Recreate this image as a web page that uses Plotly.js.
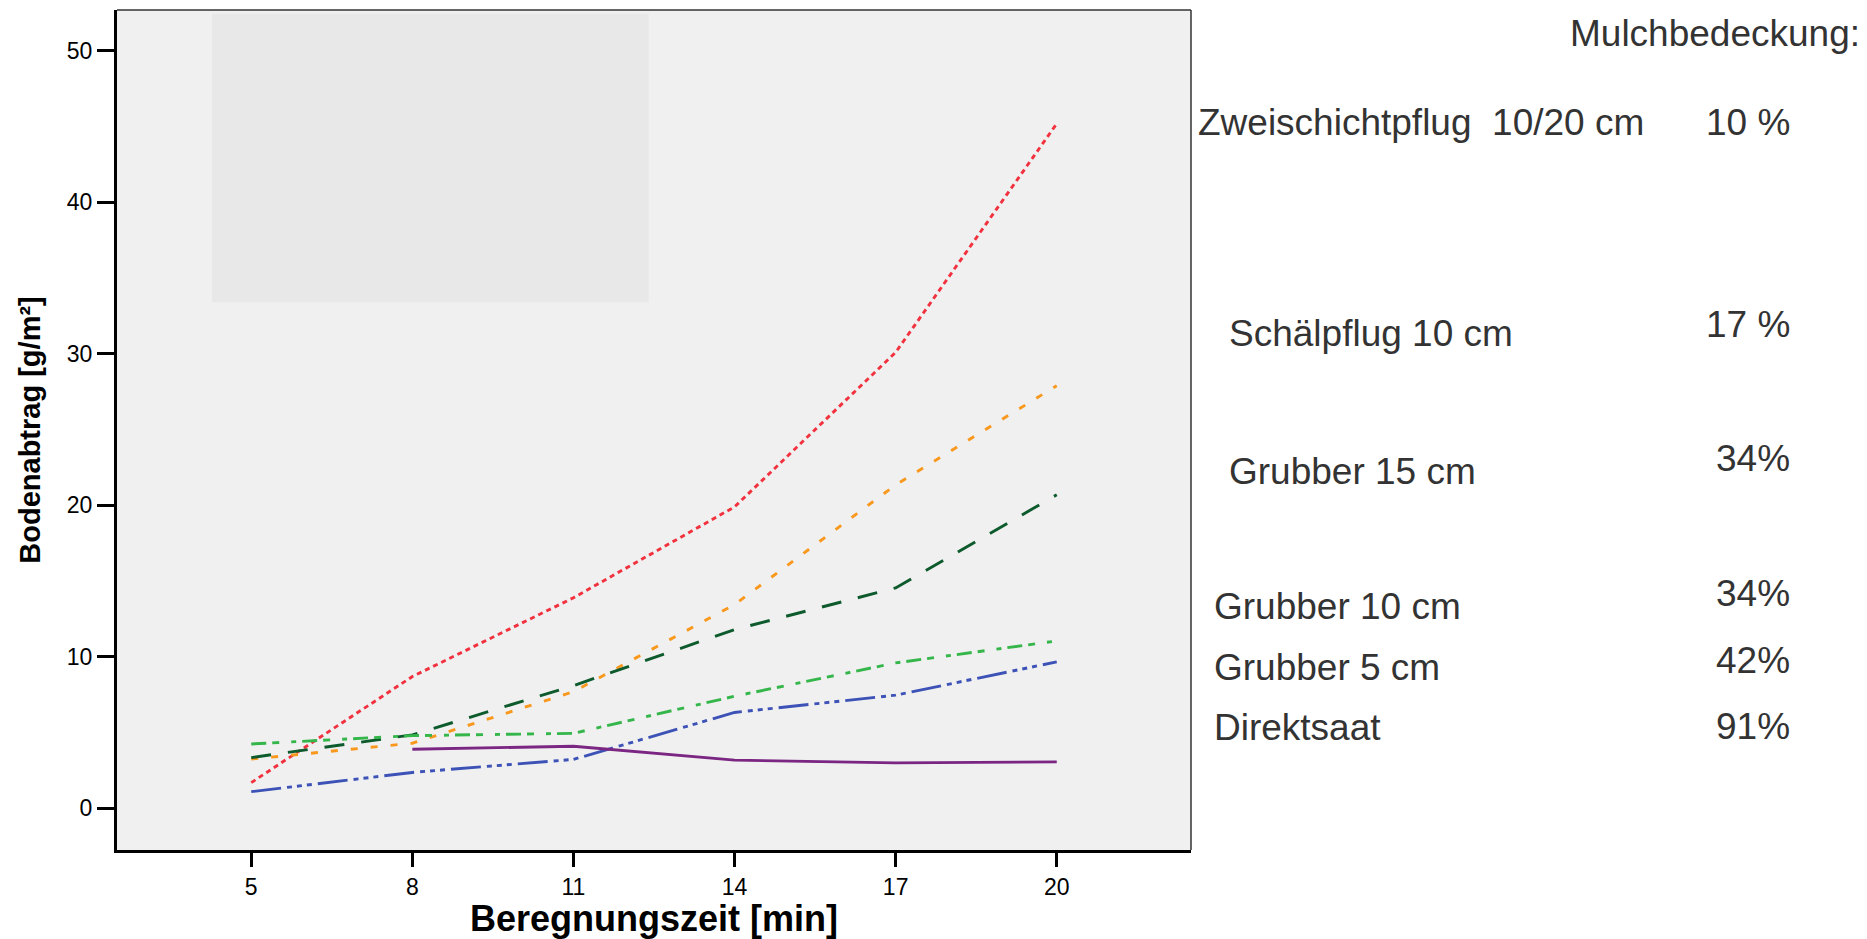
<!DOCTYPE html>
<html>
<head>
<meta charset="utf-8">
<script src="https://cdn.plot.ly/plotly-3.0.1.min.js"></script>
<style>
  html, body { margin: 0; padding: 0; background: #ffffff; }
  #chart { width: 1867px; height: 939px; }
</style>
</head>
<body>
<div id="chart"></div>
<script>
// Beregnungszeit (min)
const zeit = [5, 8, 11, 14, 17, 20];

// Bodenabtrag (g/m²) je Bodenbearbeitung
const zweischichtpflug = [1.7, 8.7, 13.9, 19.9, 30.1, 45.2];
const schaelpflug      = [3.25, 4.3, 7.7, 13.45, 21.35, 27.9];
const grubber15        = [3.35, 4.85, 8.1, 11.8, 14.55, 20.7];
const grubber10        = [4.25, 4.8, 4.95, 7.4, 9.6, 11.05];
const grubber5         = [1.1, 2.37, 3.23, 6.33, 7.47, 9.67];
const direktsaat       = [null, 3.9, 4.1, 3.18, 3.0, 3.07];

// Beschriftung rechts: Verfahren und Mulchbedeckung
const verfahren = ["Zweischichtpflug\u00a0 10/20 cm", "Schälpflug 10 cm", "Grubber 15 cm",
                   "Grubber 10 cm", "Grubber 5 cm", "Direktsaat"];
const mulch = ["10 %", "17 %", "34%", "34%", "42%", "91%"];

const yTicks = [0, 10, 20, 30, 40, 50];

const FONT = "Liberation Sans, Arial, Helvetica, sans-serif";

function serie(y, color, dash, name) {
  return {
    x: zeit, y: y, name: name, type: "scatter", mode: "lines",
    connectgaps: false, hoverinfo: "x+y",
    line: { color: color, width: 2.9, dash: dash }
  };
}

const traces = [
  serie(zweischichtpflug, "#f2313e", "5px,4px", verfahren[0]),
  serie(schaelpflug, "#f8981d", "7px,13px", verfahren[1]),
  serie(grubber15, "#0d5a2c", "20px,17px", verfahren[2]),
  serie(grubber10, "#35b64a", "15px,6px,7px,12px,5px,6px", verfahren[3]),
  serie(grubber5, "#3d52b6", "30px,6px,5px,5px,5px,5px,5px,6px", verfahren[4]),
  serie(direktsaat, "#7b2683", "solid", verfahren[5])
];

// plot area in pixels
const L = 117, R = 1191, T = 10, B = 850, W = 1867, H = 939;
const px = v => (v - L) / (R - L);
const py = v => (B - v) / (B - T);

// label rows (pixel centres)
const labelLeft = [1196, 1227, 1227, 1212, 1212, 1212];
const labelY    = [123, 333, 471, 607, 667, 727];
const pctY      = [123, 324, 458, 593, 660, 726];

const annotations = [];
verfahren.forEach((t, i) => {
  annotations.push({
    text: t, xref: "paper", yref: "paper", x: px(labelLeft[i]), y: py(labelY[i]),
    xanchor: "left", yanchor: "middle", showarrow: false,
    font: { family: FONT, size: 37, color: "#333333" }
  });
  annotations.push({
    text: mulch[i], xref: "paper", yref: "paper", x: px(1792), y: py(pctY[i]),
    xanchor: "right", yanchor: "middle", showarrow: false,
    font: { family: FONT, size: 37, color: "#333333" }
  });
});
annotations.push({
  text: "Mulchbedeckung:", xref: "paper", yref: "paper", x: px(1862), y: py(33),
  xanchor: "right", yanchor: "middle", showarrow: false,
  font: { family: FONT, size: 37, color: "#333333" }
});

const layout = {
  width: W, height: H,
  margin: { l: L, r: W - R, t: T, b: H - B, pad: 0 },
  paper_bgcolor: "#ffffff",
  plot_bgcolor: "#f0f0f0",
  showlegend: false,
  font: { family: FONT, color: "#000000" },
  xaxis: {
    range: [2.5, 22.5], tickmode: "array", tickvals: zeit,
    ticks: "outside", ticklen: 14, tickwidth: 3, tickcolor: "#000",
    showline: true, linewidth: 3, linecolor: "#000",
    showgrid: false, zeroline: false,
    tickfont: { family: FONT, size: 23, color: "#000" },
    title: { text: "Beregnungszeit [min]", standoff: 5,
             font: { family: FONT, size: 36, color: "#000", weight: "bold" } }
  },
  yaxis: {
    range: [-2.75, 52.7], tickmode: "array", tickvals: yTicks,
    ticks: "outside", ticklen: 17, tickwidth: 3, tickcolor: "#000",
    showline: true, linewidth: 3, linecolor: "#000",
    showgrid: false, zeroline: false,
    tickfont: { family: FONT, size: 23, color: "#000" },
    title: { text: "Bodenabtrag [g/m²]", standoff: 18,
             font: { family: FONT, size: 29, color: "#000", weight: "bold" } }
  },
  shapes: [
    { type: "rect", xref: "x", yref: "y", x0: 4.27, x1: 12.4, y0: 33.4, y1: 52.45,
      fillcolor: "#e8e8e8", line: { width: 0 }, layer: "below" },
    { type: "line", xref: "paper", yref: "paper", x0: 0, x1: 1, y0: 1, y1: 1,
      line: { color: "#333333", width: 1.5 } },
    { type: "line", xref: "paper", yref: "paper", x0: 1, x1: 1, y0: 0, y1: 1,
      line: { color: "#333333", width: 1.5 } }
  ],
  annotations: annotations
};

Plotly.newPlot("chart", traces, layout, { displayModeBar: false, staticPlot: true });
</script>
</body>
</html>
